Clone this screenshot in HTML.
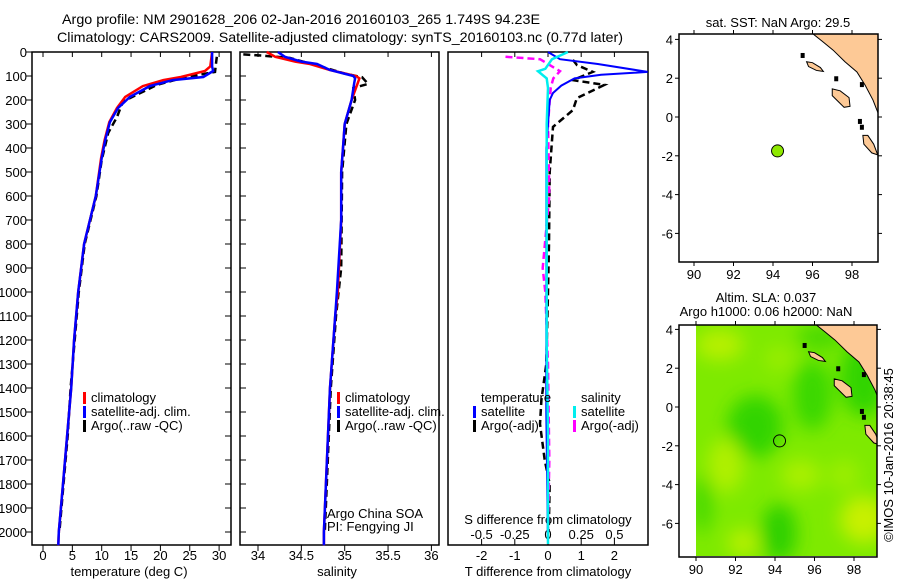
<!DOCTYPE html>
<html><head><meta charset="utf-8">
<style>
html,body{margin:0;padding:0;background:#fff;}
svg{display:block;font-family:"Liberation Sans",Arial,sans-serif;}
text{fill:#000;}
</style></head>
<body>
<svg id="fig" width="900" height="580" viewBox="0 0 900 580" xmlns="http://www.w3.org/2000/svg">
<g font-size="14">
<text x="62" y="24" textLength="478" lengthAdjust="spacingAndGlyphs">Argo profile: NM 2901628_206 02-Jan-2016 20160103_265 1.749S 94.23E</text>
<text x="57" y="42" textLength="566" lengthAdjust="spacingAndGlyphs">Climatology: CARS2009. Satellite-adjusted climatology: synTS_20160103.nc (0.77d later)</text>
</g>
<text x="893" y="455" font-size="13" transform="rotate(-90 893 455)" text-anchor="middle">©IMOS 10-Jan-2016 20:38:45</text>
<g id="layer"></g>
</svg>
<script>
// ---- data ----
const tempDepth = [0,60,79,104,117,142,187,233,292,367,442,600,800,1000,1200,1400,1600,1800,2000,2055];
const tempClim  = [28.8,28.5,27.6,23.5,20.5,17.0,14.0,12.6,11.3,10.5,9.9,9.0,7.0,6.0,5.3,4.8,4.1,3.4,2.7,2.6];
const tempSat   = [28.8,28.8,29.0,27.3,22.1,18.2,14.8,12.8,11.4,10.6,10.0,9.0,7.0,6.0,5.3,4.8,4.1,3.4,2.7,2.6];
const argoDepth = [20,83,108,137,192,208,271,337,450,600,800,1000,1200,1400,1600,1800,2000];
const tempArgo  = [29.6,29.3,23.8,19.4,14.8,13.6,12.6,11.1,10.0,9.1,7.1,6.1,5.4,4.7,4.2,3.5,2.8];

const salDepth = [0,20,40,50,75,100,110,130,200,300,400,500,700,1000,1100,1400,2000,2055];
const salClim  = [34.1,34.2,34.43,34.6,34.83,35.13,35.17,35.15,35.08,35.0,34.98,34.96,34.96,34.92,34.89,34.83,34.76,34.76];
const salSat   = [34.23,34.31,34.5,34.68,34.83,35.1,35.12,35.11,35.08,35.0,34.98,34.96,34.96,34.91,34.89,34.83,34.76,34.76];
const salArgoDepth = [10,15,25,60,90,105,133,150,200,300,500,900,1000,1100,1400,2000];
const salArgo  = [33.83,34.05,34.37,34.72,35.0,35.2,35.27,35.1,35.12,35.02,34.97,34.96,34.93,34.9,34.84,34.77];

const dTDepth = [0,30,50,83,95,110,140,171,200,400,800,1200,1500,2050];
const dTSat   = [0.0,0.36,1.5,3.0,1.6,0.8,0.4,0.15,0.05,-0.05,-0.05,-0.05,-0.05,0.0];
const dTArgoDepth = [33,54,83,117,137,192,242,312,500,800,1000,1300,1450,1550,1700,1800,2000];
const dTArgo  = [0.75,0.87,1.35,0.75,1.7,0.87,0.75,0.15,0.05,0.03,0.0,-0.05,-0.2,-0.24,-0.1,0.05,0.02];
const dSDepth = [0,30,70,80,110,150,300,800,1200,1600,2050];
const dSSat   = [0.15,0.03,-0.02,-0.075,-0.01,0.0,-0.01,-0.01,-0.01,0.0,0.0];
const dSArgoDepth = [20,30,80,110,150,300,600,900,1000,1300,1700,2000];
const dSArgo  = [-0.32,-0.06,0.09,0.04,0.02,0.0,0.01,-0.04,-0.02,0.0,0.01,0.0];

const depthTicks = [0,100,200,300,400,500,600,700,800,900,1000,1100,1200,1300,1400,1500,1600,1700,1800,1900,2000];
const tempTicks = [0,5,10,15,20,25,30];
const salTicks = [34,34.5,35,35.5,36];
const salTickLabels = ["34","34.5","35","35.5","36"];
const dTTicks = [-2,-1,0,1,2];
const dSTicks = [-0.5,-0.25,0,0.25,0.5];
const dSTickLabels = ["-0.5","-0.25","0","0.25","0.5"];
const lonTicks = [90,92,94,96,98];
const latTicks = [4,2,0,-2,-4,-6];
const argoLon = 94.23, argoLat = -1.749;

// ---- helpers ----
const NS="http://www.w3.org/2000/svg";
const layer=document.getElementById('layer');
function mk(tag,attrs,parent){const e=document.createElementNS(NS,tag);for(const k in attrs)e.setAttribute(k,attrs[k]);(parent||layer).appendChild(e);return e;}
const yD = d => 52 + d*0.24;
const xT = t => 43 + t*5.87;
const xS = s => 258 + (s-34)*86.7;
const xdT = t => 548 + t*33.2;
const xdS = s => 548 + s*132.8;

function series(xs,ds,xf,color,dash,name,w){
  const p=mk('polyline',{points:xs.map((v,i)=>xf(v).toFixed(1)+','+yD(ds[i]).toFixed(1)).join(' '),fill:'none',stroke:color,'stroke-width':w||2.5,'stroke-dasharray':dash||'none'});
  
  
}
function frame(x0,x1,name){
  const r=mk('rect',{x:x0,y:52,width:x1-x0,height:493,fill:'none',stroke:'#000','stroke-width':1.5});
  
  
}
function legend(x,y,color,label,name){
  const g=mk('g',{});
  
  
  mk('rect',{x:x,y:y-10,width:3,height:12,fill:color},g);
  const t=mk('text',{x:x+8,y:y,'font-size':13},g); t.textContent=label;
}

// ---- panel 1: temperature ----
frame(32,231,'temperature-panel');
depthTicks.forEach(d=>{
  mk('line',{x1:26,x2:32,y1:yD(d),y2:yD(d),stroke:'#000'});
  mk('line',{x1:231,x2:225,y1:yD(d),y2:yD(d),stroke:'#000'});
  mk('line',{x1:240,x2:246,y1:yD(d),y2:yD(d),stroke:'#000'});
  const t=mk('text',{x:27,y:yD(d)+5,'font-size':13,'text-anchor':'end'}); t.textContent=d;
  
  
});
tempTicks.forEach(v=>{
  mk('line',{x1:xT(v),x2:xT(v),y1:52,y2:57,stroke:'#000'});
  mk('line',{x1:xT(v),x2:xT(v),y1:545,y2:551,stroke:'#000'});
  const t=mk('text',{x:xT(v),y:560,'font-size':13,'text-anchor':'middle'}); t.textContent=v;
  
  
});
{const t=mk('text',{x:129,y:576,'font-size':13,'text-anchor':'middle'});t.textContent='temperature (deg C)';

}
series(tempArgo,argoDepth,xT,'#000','7,4','temp-argo-line',2.5);
series(tempClim,tempDepth,xT,'#f00',null,'temp-climatology-line',2.5);
series(tempSat,tempDepth,xT,'#00f',null,'temp-satellite-line',2.5);
legend(83,402,'#f00','climatology','legend-climatology');
legend(83,416,'#00f','satellite-adj. clim.','legend-satellite-adj');
legend(83,430,'#000','Argo(..raw -QC)','legend-argo');

// ---- panel 2: salinity ----
frame(240,439,'salinity-panel');
salTicks.forEach((v,i)=>{
  mk('line',{x1:xS(v),x2:xS(v),y1:52,y2:57,stroke:'#000'});
  mk('line',{x1:xS(v),x2:xS(v),y1:545,y2:551,stroke:'#000'});
  const t=mk('text',{x:xS(v),y:560,'font-size':13,'text-anchor':'middle'}); t.textContent=salTickLabels[i];
  
  
});
{const t=mk('text',{x:337,y:576,'font-size':13,'text-anchor':'middle'});t.textContent='salinity';

}
series(salArgo,salArgoDepth,xS,'#000','7,4','sal-argo-line',2.5);
series(salClim,salDepth,xS,'#f00',null,'sal-climatology-line',2.5);
series(salSat,salDepth,xS,'#00f',null,'sal-satellite-line',2.5);
legend(337,402,'#f00','climatology','legend-climatology-2');
legend(337,416,'#00f','satellite-adj. clim.','legend-satellite-adj-2');
legend(337,430,'#000','Argo(..raw -QC)','legend-argo-2');
{const t=mk('text',{x:327,y:518,'font-size':13});t.textContent='Argo China SOA';


const t2=mk('text',{x:327,y:531,'font-size':13});t2.textContent='PI: Fengying JI';

}

// ---- panel 3: differences ----
frame(448,648,'difference-panel');
dTTicks.forEach(v=>{
  mk('line',{x1:xdT(v),x2:xdT(v),y1:52,y2:57,stroke:'#000'});
  mk('line',{x1:xdT(v),x2:xdT(v),y1:545,y2:539,stroke:'#000'});
  const t=mk('text',{x:xdT(v),y:560,'font-size':13,'text-anchor':'middle'}); t.textContent=v;
  
  
});
dSTicks.forEach((v,i)=>{
  const t=mk('text',{x:xdS(v),y:539,'font-size':13,'text-anchor':'middle'}); t.textContent=dSTickLabels[i];
  
  
});
{const t=mk('text',{x:548,y:524,'font-size':13,'text-anchor':'middle'});t.textContent='S difference from climatology';


const t2=mk('text',{x:548,y:576,'font-size':13,'text-anchor':'middle'});t2.textContent='T difference from climatology';

}
series(dTArgo,dTArgoDepth,xdT,'#000','7,4','dT-argo-line',2.5);
series(dSArgo,dSArgoDepth,xdS,'#f0f','7,4','dS-argo-line',2.5);
series(dTSat,dTDepth,xdT,'#00f',null,'dT-satellite-line',2);
series(dSSat,dSDepth,xdS,'#0ee',null,'dS-satellite-line',2.5);
{const t=mk('text',{x:481,y:402,'font-size':13});t.textContent='temperature';


const t2=mk('text',{x:581,y:402,'font-size':13});t2.textContent='salinity';

}
legend(473,416,'#00f','satellite','legend-t-satellite');
legend(473,430,'#000','Argo(-adj)','legend-t-argo');
legend(573,416,'#0ee','satellite','legend-s-satellite');
legend(573,430,'#f0f','Argo(-adj)','legend-s-argo');

// ---- maps ----
const coast=[[95.9,4.4],[96.03,4.28],[96.5,3.9],[97.04,3.45],[97.65,2.84],[98.25,2.32],[98.66,1.65],[99.06,0.88],[99.32,0.2],[99.5,0.2],[99.5,4.4]];
const islands=[
 [[95.7,2.85],[96.0,2.8],[96.4,2.55],[96.55,2.35],[96.2,2.4],[95.8,2.6]],
 [[97.0,1.45],[97.4,1.35],[97.85,1.0],[97.9,0.55],[97.6,0.5],[97.3,0.8],[97.0,1.1]],
 [[98.55,-0.95],[98.8,-0.95],[99.1,-1.4],[99.3,-1.95],[99.0,-1.85],[98.6,-1.4]]
];
function drawMap(x0,y0,w,h,lx0,ly0,name,field){
  const lonX=l=>lx0+(l-90)*19.75, latY=a=>ly0-a*19.4;
  const g=mk('g',{});
  
  
  const cid=name+'-clip';
  const cp=mk('clipPath',{id:cid},g); mk('rect',{x:x0,y:y0,width:w,height:h},cp);
  const inner=mk('g',{'clip-path':'url(#'+cid+')'},g);
  if(field){
    const fx=lonX(90), fw=x0+w-fx;
    const fid=name+'-blur';
    const f=mk('filter',{id:fid,x:'-20%',y:'-20%',width:'140%',height:'140%'},g);
    mk('feGaussianBlur',{stdDeviation:9},f);
    const cp2=mk('clipPath',{id:cid+'2'},g); mk('rect',{x:fx,y:y0,width:fw,height:h-1},cp2);
    const fg=mk('g',{'clip-path':'url(#'+cid+'2)'},inner);
    mk('rect',{x:fx,y:y0,width:fw,height:h,fill:'#7eea00'},fg);
    const bg=mk('g',{filter:'url(#'+fid+')'},fg);
    const blobs=[[93,-1,1.4,1.6,'#33d400'],[95.9,0.6,1.0,1.8,'#3ad800'],[94.2,-6.5,0.9,1.5,'#2ed000'],[90.3,-5,0.5,1.5,'#44d800'],[96.3,3.6,1.2,0.6,'#44d800'],[98.5,1.5,1.2,2,'#33d400'],
      [91.2,3.2,1.2,0.8,'#b8f000'],[91.5,-3,0.9,1.4,'#b0f000'],[95.3,-3.5,1,0.8,'#aaf000'],[98.5,-5.8,1.2,1.2,'#c8f000'],[92.4,-7,0.8,0.7,'#b8f000'],[94.2,2.5,0.7,0.6,'#9cee00'],[97.5,-3.5,0.8,0.8,'#9cee00']];
    blobs.forEach(b=>mk('ellipse',{cx:lonX(b[0]),cy:latY(b[1]),rx:b[2]*19.75,ry:b[3]*19.4,fill:b[4]},bg));
  }
  const land=mk('polygon',{points:coast.map(p=>lonX(p[0])+','+latY(p[1])).join(' '),fill:'#fdc996',stroke:'#000','stroke-width':1},inner);
  
  islands.forEach(is=>mk('polygon',{points:is.map(p=>lonX(p[0])+','+latY(p[1])).join(' '),fill:'#fdc996',stroke:'#000','stroke-width':1},inner));
  [[98.3,-0.1],[98.4,-0.4],[97.1,2.1],[98.4,1.8],[95.4,3.3]].forEach(p=>mk('rect',{x:lonX(p[0]),y:latY(p[1]),width:4,height:5,fill:'#000'},inner));
  mk('rect',{x:x0,y:y0,width:w,height:h,fill:'none',stroke:'#000','stroke-width':1.5},g);
  lonTicks.forEach(l=>{
    mk('line',{x1:lonX(l),x2:lonX(l),y1:y0,y2:y0-4,stroke:'#000'},g);
    mk('line',{x1:lonX(l),x2:lonX(l),y1:y0+h,y2:y0+h+4,stroke:'#000'},g);
    const t=mk('text',{x:lonX(l),y:y0+h+17,'font-size':13,'text-anchor':'middle'},g); t.textContent=l;
  });
  latTicks.forEach(a=>{
    mk('line',{x1:x0,x2:x0-4,y1:latY(a),y2:latY(a),stroke:'#000'},g);
    mk('line',{x1:x0+w,x2:x0+w+4,y1:latY(a),y2:latY(a),stroke:'#000'},g);
    const t=mk('text',{x:x0-6,y:latY(a)+5,'font-size':13,'text-anchor':'end'},g); t.textContent=a;
  });
  const dot=mk('circle',{cx:lonX(argoLon),cy:latY(argoLat),r:6,fill:field?'none':'#8ee800',stroke:'#000','stroke-width':1},g);
  
  
  return g;
}
drawMap(679,34,199,228,694,117,'sst-map',false);
drawMap(679,325,198,232,696,407,'sla-map',true);
{const t=mk('text',{x:778,y:27,'font-size':13,'text-anchor':'middle'});t.textContent='sat. SST: NaN Argo: 29.5';


const t2=mk('text',{x:766,y:302,'font-size':13,'text-anchor':'middle'});t2.textContent='Altim. SLA: 0.037';


const t3=mk('text',{x:766,y:316,'font-size':13,'text-anchor':'middle'});t3.textContent='Argo h1000: 0.06 h2000: NaN';

}
</script>
</body></html>
